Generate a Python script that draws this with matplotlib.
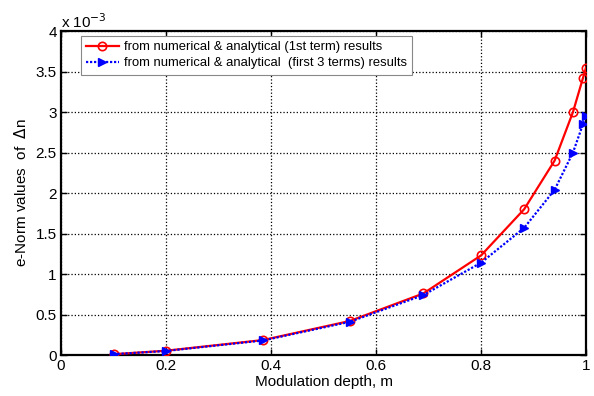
import matplotlib
matplotlib.use("Agg")
import matplotlib.pyplot as plt

m = [0.1, 0.2, 0.385, 0.55, 0.69, 0.8, 0.882, 0.94, 0.975, 0.994, 1.0]
red_vals = [0.01, 0.053, 0.185, 0.42, 0.76, 1.23, 1.80, 2.40, 3.00, 3.42, 3.55]
blue_vals = [0.01, 0.05, 0.18, 0.41, 0.74, 1.14, 1.57, 2.04, 2.50, 2.85, 2.95]
xticks = [0, 0.2, 0.4, 0.6, 0.8, 1]
yticks = [0, 0.5, 1, 1.5, 2, 2.5, 3, 3.5, 4]
ytick_labels = ["0", "0.5", "1", "1.5", "2", "2.5", "3", "3.5", "4"]

plt.rcParams['font.family'] = ['Liberation Sans', 'DejaVu Sans']

fig = plt.figure(figsize=(5.94, 3.96), dpi=100)
ax = fig.add_axes([0.1027, 0.1035, 0.884, 0.818])

ax.plot(m, red_vals, color='red', lw=1.6, marker='o', ms=6, mfc='none', mec='red',
        mew=1.2, label='from numerical & analytical (1st term) results', zorder=3)
ax.plot(m, blue_vals, color='blue', lw=1.6, ls=(0, (1, 0.8)), marker='>', ms=5.5, mfc='blue', mec='blue',
        label='from numerical & analytical  (first 3 terms) results', zorder=4)

ax.set_xlim(0, 1)
ax.set_ylim(0, 4)
ax.set_xticks(xticks)
ax.set_xticklabels([f"{t:g}" for t in xticks])
ax.set_yticks(yticks)
ax.set_yticklabels(ytick_labels)
ax.tick_params(direction='in', top=True, right=True, labelsize=11, length=4, width=1, pad=3)
ax.grid(True, color='black', ls=':', lw=0.9)
for s in ax.spines.values():
    s.set_linewidth(1.6)

ax.set_xlabel('Modulation depth, m', fontsize=11, labelpad=1)
ax.set_ylabel('e-Norm values  of  $\\Delta$n', fontsize=11, labelpad=5)
ax.text(0.0, 1.0, 'x 10$^{-3}$', transform=ax.transAxes, fontsize=11, ha='left', va='bottom')

leg = ax.legend(loc='upper left', bbox_to_anchor=(0.038, 0.985), fontsize=9.4, frameon=True,
                fancybox=False, edgecolor='#888888', framealpha=1, borderpad=0.4,
                labelspacing=0.3, handlelength=2.5, handletextpad=0.4, borderaxespad=0)
leg.get_frame().set_linewidth(0.8)

fig.savefig('out.png', dpi=100)
